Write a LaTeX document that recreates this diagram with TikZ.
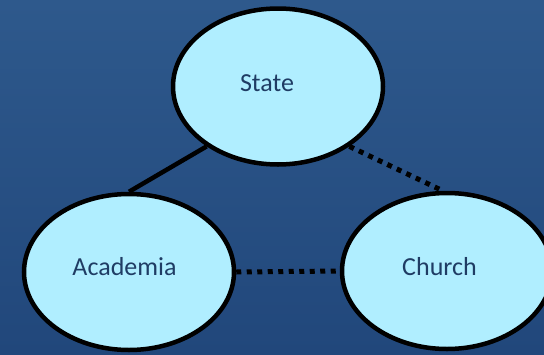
\documentclass[tikz,border=0pt]{standalone}
\usepackage{fontspec}
\setmainfont{Carlito}
\usetikzlibrary{shapes.geometric}
\definecolor{bgtop}{RGB}{46,89,140}
\definecolor{bgbot}{RGB}{33,71,123}
\definecolor{bubble}{RGB}{176,238,255}
\definecolor{ink}{RGB}{31,60,100}
\begin{document}
\begin{tikzpicture}[x=1pt,y=-1pt,
  bubble/.style={ellipse, draw=black, line width=4.5pt, fill=bubble,
    minimum width=210pt, minimum height=156pt, inner sep=0pt},
  caption/.style={text=ink, font=\fontsize{26}{30}\selectfont, inner sep=0pt},
  link/.style={line width=4.5pt, draw=black},
  dotlink/.style={line width=5pt, draw=black, dash pattern=on 5pt off 5.5pt}]
  % backdrop
  \fill[top color=bgtop, bottom color=bgbot] (0,0) rectangle (544,354);
  \useasboundingbox (0,0) rectangle (544,354);
  % bubble centres
  \coordinate (sc) at (278,86.5);
  \coordinate (ac) at (129,272);
  \coordinate (cc) at (447,271);
  % bubbles
  \node[bubble] (state) at (sc) {};
  \node[bubble] (academia) at (ac) {};
  \node[bubble] (church) at (cc) {};
  % connectors
  \draw[link] (state.220) -- (academia.90);
  \draw[dotlink] (state.320) -- (church.93);
  \draw[dotlink] (academia.0) -- (church.180);
  % captions
  \node[caption] (stateLbl) at (267,83) {State};
  \node[caption] (academiaLbl) at (124.5,267) {Academia};
  \node[caption] (churchLbl) at (439.5,267) {Church};
\end{tikzpicture}
\end{document}
